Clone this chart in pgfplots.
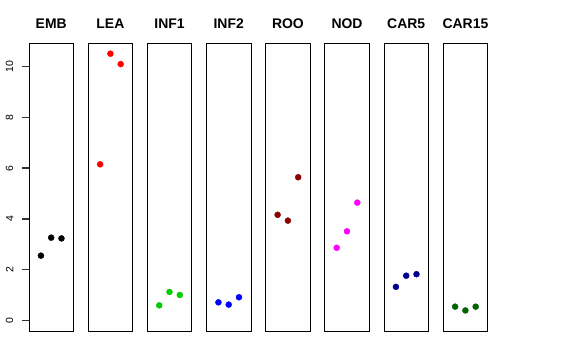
\documentclass[border=0pt]{standalone}
\usepackage{pgfplots}
\pgfplotsset{compat=1.18}
\usepackage{fontspec}
\setmainfont{Liberation Sans}
\definecolor{green3}{RGB}{0,205,0}
\definecolor{rdarkred}{RGB}{139,0,0}
\definecolor{rdarkblue}{RGB}{0,0,139}
\definecolor{rdarkgreen}{RGB}{0,100,0}
\definecolor{rmagenta}{RGB}{255,0,255}
\pgfplotsset{
  panel/.style={scale only axis, width=44.4bp, height=287.7bp,
    xmin=-0.16, xmax=4.16, ymin=-0.42, ymax=10.92,
    xtick=\empty, ytick=\empty,
    axis line style={line width=0.8bp, black},
    title style={font=\fontsize{14}{16}\selectfont\bfseries, anchor=base, at={(0.5,1)}, yshift=8.5bp},
    anchor=south west},
  pts/.style={only marks, mark=*, mark size=3bp, color=#1, mark options={fill=#1, draw=#1}}
}
\begin{document}
\begin{tikzpicture}
\path[use as bounding box] (0,0) rectangle (576bp,360bp);
\begin{axis}[panel, at={(29bp,29bp)}, title={EMB},
  ytick={0,2,4,6,8,10}, ytick pos=left, tick align=outside,
  major tick length=7bp,
  every tick/.style={black!80, line width=1.4bp},
  yticklabel style={rotate=90, anchor=south, inner sep=0pt, yshift=8.5bp, font=\fontsize{10.5}{12}\selectfont},
  /pgf/number format/assume math mode=true]
\addplot[pts=black] coordinates {(1,2.55) (2,3.26) (3,3.23)};
\end{axis}
\begin{axis}[panel, at={(88.2bp,29bp)}, title={LEA}]
\addplot[pts=red] coordinates {(1,6.15) (2,10.51) (3,10.10)};
\end{axis}
\begin{axis}[panel, at={(147.3bp,29bp)}, title={INF1}]
\addplot[pts=green3] coordinates {(1,0.59) (2,1.12) (3,1.00)};
\end{axis}
\begin{axis}[panel, at={(206.5bp,29bp)}, title={INF2}]
\addplot[pts=blue] coordinates {(1,0.71) (2,0.62) (3,0.91)};
\end{axis}
\begin{axis}[panel, at={(265.7bp,29bp)}, title={ROO}]
\addplot[pts=rdarkred] coordinates {(1,4.16) (2,3.93) (3,5.64)};
\end{axis}
\begin{axis}[panel, at={(324.8bp,29bp)}, title={NOD}]
\addplot[pts=rmagenta] coordinates {(1,2.86) (2,3.51) (3,4.64)};
\end{axis}
\begin{axis}[panel, at={(384bp,29bp)}, title={CAR5}]
\addplot[pts=rdarkblue] coordinates {(1,1.32) (2,1.76) (3,1.82)};
\end{axis}
\begin{axis}[panel, at={(443.2bp,29bp)}, title={CAR15}]
\addplot[pts=rdarkgreen] coordinates {(1,0.54) (2,0.39) (3,0.54)};
\end{axis}
\end{tikzpicture}
\end{document}
